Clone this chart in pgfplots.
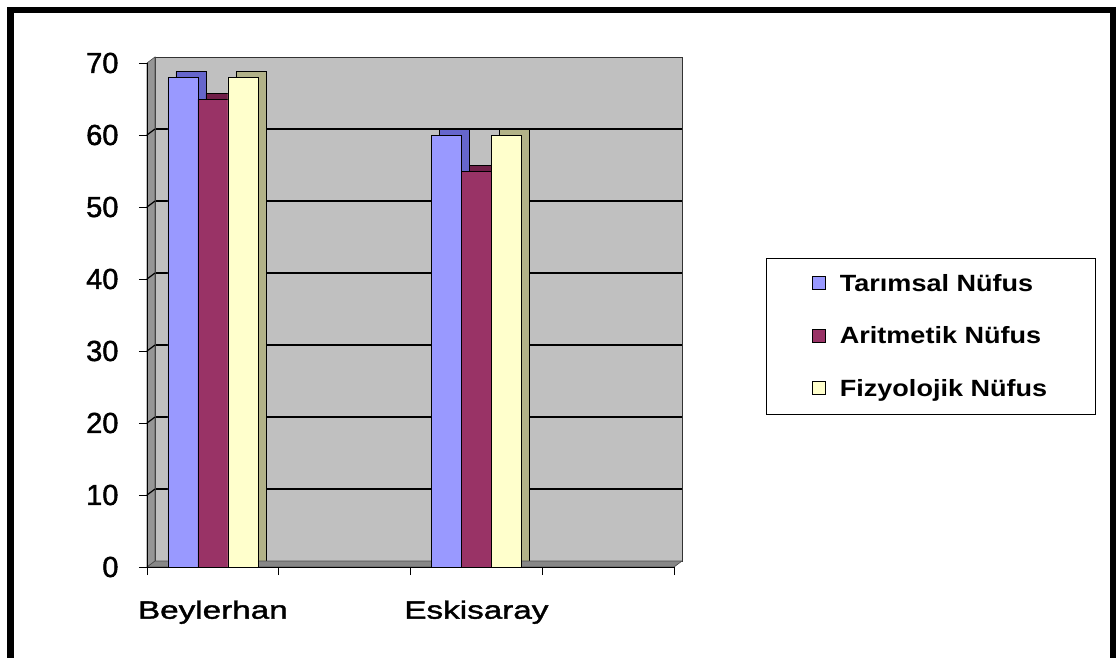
\documentclass[border=0pt]{standalone}
\usepackage{fontspec}
\setmainfont{Liberation Sans}
\newfontfamily\tickfont{Liberation Sans}[FakeBold=1.6]
\newfontfamily\widefont{Liberation Sans}[FakeStretch=1.33, FakeBold=1.6]
\newfontfamily\legfont{Liberation Sans}[FakeStretch=1.15]
\usepackage{pgfplots}
\usepackage{pgfplotstable}
\pgfplotsset{compat=1.18}

\definecolor{wall}{RGB}{192,192,192}
\definecolor{sidewall}{RGB}{150,150,150}
\definecolor{floorgray}{RGB}{135,135,135}
\definecolor{tarfront}{RGB}{153,153,255}
\definecolor{tarside}{RGB}{102,102,204}
\definecolor{arifront}{RGB}{153,51,102}
\definecolor{ariside}{RGB}{112,30,72}
\definecolor{fizfront}{RGB}{255,255,204}
\definecolor{fizside}{RGB}{178,178,136}

% slots 0..4, groups at 0.5 and 2.5
\pgfplotstableread{
x   tar ari fiz
0.5 68  65  68
2.5 60  55  60
}\nufus

\pgfplotsset{
  chartbase/.style={
    scale only axis, width=527pt, height=504pt,
    xmin=0, xmax=4, ymin=0, ymax=70,
    ybar=0pt, bar width=30pt, clip=false,
  },
}

\begin{document}
\begin{tikzpicture}
\useasboundingbox (0,0) rectangle (1116pt,657pt);

% back wall, grid and bar depth (shifted copy of the bars)
\begin{axis}[chartbase, name=back,
    at={(155pt,96pt)}, anchor=south west,
    axis background/.style={fill=wall},
    axis line style={draw=gray!40!black, line width=0.8pt},
    xtick=\empty, ytick={10,20,...,60}, yticklabels={},
    major tick length=0pt,
    ymajorgrids, grid style={black, line width=1.4pt},
  ]
  \addplot[fill=tarside, draw=black, line width=0.6pt] table[x=x, y=tar] {\nufus};
  \addplot[fill=ariside, draw=black, line width=0.6pt] table[x=x, y=ari] {\nufus};
  \addplot[fill=fizside, draw=black, line width=0.6pt] table[x=x, y=fiz] {\nufus};
\end{axis}

% side wall and floor
\filldraw[fill=sidewall, draw=black!70, line width=0.6pt]
  (147pt,90pt) -- (147pt,594pt) -- (155pt,600pt) -- (155pt,96pt) -- cycle;
\foreach \k in {1,...,6}
  \draw[black, line width=1.2pt] (147pt,90pt+72pt*\k) -- (155pt,96pt+72pt*\k);
\filldraw[fill=floorgray, draw=black!70, line width=0.6pt]
  (147pt,90pt) -- (674pt,90pt) -- (682pt,96pt) -- (155pt,96pt) -- cycle;

% front plane: bars, ticks, labels, legend
\begin{axis}[chartbase, name=front,
    at={(147pt,90pt)}, anchor=south west,
    axis x line*=bottom, axis y line*=left,
    axis line style={black, line width=0.8pt},
    tick align=outside, major tick length=8pt,
    tick style={black, line width=0.8pt},
    xtick={0,1,2,3,4}, xticklabels={},
    extra x ticks={0.5,2.5},
    extra x tick labels={Beylerhan,Eskisaray},
    extra x tick style={major tick length=0pt,
      xticklabel style={font=\widefont\fontsize{25}{30}\selectfont, yshift=-30pt}},
    ytick={0,10,...,70},
    yticklabel style={font=\tickfont\fontsize{29}{32}\selectfont, xshift=-17pt},
    /pgf/number format/assume math mode=true,
    legend style={at={(1.1746,0.458)}, anchor=west,
      draw=black, line width=0.6pt, fill=white,
      font=\legfont\bfseries\fontsize{23.5}{28}\selectfont,
      row sep=30pt, column sep=12pt,
      inner xsep=46pt, inner ysep=14pt,
      cells={anchor=west}},
    legend image code/.code={
      \draw[#1, draw=black, line width=0.6pt] (0pt,-6pt) rectangle (13pt,7pt);},
  ]
  \addplot[fill=tarfront, draw=black, line width=0.6pt] table[x=x, y=tar] {\nufus};
  \addlegendentry{Tarımsal Nüfus}
  \addplot[fill=arifront, draw=black, line width=0.6pt] table[x=x, y=ari] {\nufus};
  \addlegendentry{Aritmetik Nüfus}
  \addplot[fill=fizfront, draw=black, line width=0.6pt] table[x=x, y=fiz] {\nufus};
  \addlegendentry{Fizyolojik Nüfus}
\end{axis}

% outer frame
\draw[line width=6.5pt] (10.5pt,-20pt) -- (10.5pt,647pt) -- (1113.5pt,647pt) -- (1113.5pt,-20pt);
\end{tikzpicture}
\end{document}
